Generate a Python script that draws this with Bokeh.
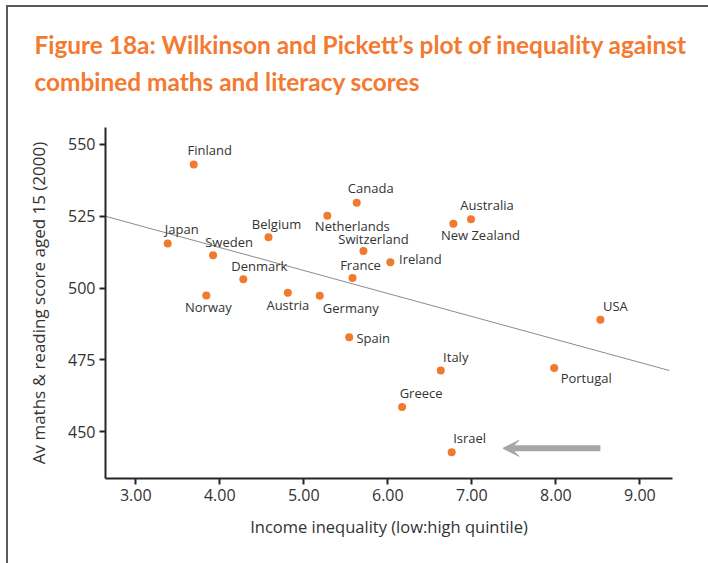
from bokeh.plotting import figure
from bokeh.models import ColumnDataSource, Title, Arrow, VeeHead, Range1d, FixedTicker
from bokeh.core.properties import value
from bokeh.embed import file_html
from bokeh.resources import INLINE

countries = ["Finland", "Japan", "Sweden", "Belgium", "Denmark", "Norway", "Austria",
             "Germany", "Netherlands", "Canada", "Switzerland", "France", "Ireland",
             "Australia", "New Zealand", "USA", "Spain", "Italy", "Portugal", "Greece", "Israel"]
inequality = [3.69, 3.38, 3.92, 4.58, 4.28, 3.84, 4.81, 5.19, 5.28, 5.63, 5.71, 5.58, 6.03,
              6.99, 6.78, 8.53, 5.54, 6.63, 7.98, 6.17, 6.76]
score = [543.0, 515.5, 511.4, 517.7, 503.1, 497.4, 498.4, 497.3, 525.2, 529.7, 512.9, 503.5,
         509.0, 524.0, 522.4, 489.0, 482.9, 471.3, 472.2, 458.6, 442.8]

trend_x = [2.64, 9.35]
trend_y = [525.0, 471.3]

arrow_x = [8.53, 7.37]
arrow_y = 444.2

x_ticks = [3, 4, 5, 6, 7, 8, 9]
y_ticks = [450, 475, 500, 525, 550]

title_lines = ["Figure 18a: Wilkinson and Pickett\u2019s plot of inequality against",
               "combined maths and literacy scores"]

# label placement (screen pixel offsets from the dot centre)
label_dx = [16, 14, 16, 8, 16, 2, 0, 31, 25, 14, 10, 8, 30, 16, 27, 15, 24, 15, 32, 19, 18]
label_dy = [-15, -15, -13, -13, -13, 11, 12, 12, 10, -15, -12, -13, -3, -14, 11, -14, 1, -14, 10, -14, -14]

ORANGE = "#f07b2f"
TITLE_ORANGE = "#f37a30"

p = figure(width=708, height=563, output_backend="svg", toolbar_location=None,
           x_range=Range1d(2.64, 9.388), y_range=Range1d(433.7, 555.9),
           min_border_left=105, min_border_right=36, min_border_bottom=85, min_border_top=127)
p.outline_line_color = None
p.grid.grid_line_color = None
p.background_fill_color = "white"
p.border_fill_color = None
# outer frame: top and left edges
p.styles = {"background-color": "white",
            "box-shadow": "inset 6px 5px 0 0 white, inset 8px 7px 0 0 #595959"}

# titles (added inner-most first)
spacer = Title(text=" ", text_font="Lato", text_font_size="10px", standoff=14)
t2 = Title(text=title_lines[1], text_color=TITLE_ORANGE, text_font="Lato",
           text_font_style="bold", text_font_size="24.4px", align="left", offset=-71, standoff=7)
t1 = Title(text=title_lines[0], text_color=TITLE_ORANGE, text_font="Lato",
           text_font_style="bold", text_font_size="24.4px", align="left", offset=-71, standoff=5)
p.add_layout(spacer, "above")
p.add_layout(t2, "above")
p.add_layout(t1, "above")

for ax in (p.xaxis[0], p.yaxis[0]):
    ax.axis_line_color = "#262626"
    ax.axis_line_width = 2
    ax.major_tick_line_color = "#262626"
    ax.major_tick_line_width = 2
    ax.major_tick_out = 6
    ax.major_tick_in = 0
    ax.minor_tick_line_color = None
    ax.major_label_text_font = "Open Sans"
    ax.major_label_text_font_size = "16px"
    ax.major_label_text_color = "#333333"
    ax.axis_label_text_font = "Open Sans"
    ax.axis_label_text_font_style = "normal"
    ax.axis_label_text_color = "#333333"

p.xaxis.axis_label_text_font_size = "16.5px"
p.yaxis.axis_label_text_font_size = "17px"
p.xaxis.ticker = FixedTicker(ticks=x_ticks)
p.xaxis.major_label_overrides = {t: f"{t:.2f}" for t in x_ticks}
p.yaxis.ticker = FixedTicker(ticks=y_ticks)
p.xaxis.axis_label = "Income inequality (low:high quintile)"
p.yaxis.axis_label = "Av maths & reading score aged 15 (2000)"
p.xaxis.major_label_standoff = 4
p.yaxis.major_label_standoff = 4
p.xaxis.axis_label_standoff = 11
p.yaxis.axis_label_standoff = 15

p.line(trend_x, trend_y, line_color="#8c8c8c", line_width=1)

src = ColumnDataSource(dict(x=inequality, y=score, name=countries, dx=label_dx, dy=label_dy))
p.scatter("x", "y", source=src, size=8, fill_color=ORANGE, line_color=None)
p.text("x", "y", text="name", source=src, x_offset="dx", y_offset="dy",
       text_font=value("Open Sans"), text_font_size="13px", text_color="#333333",
       text_align="center", text_baseline="middle")

p.add_layout(Arrow(x_start=arrow_x[0], y_start=arrow_y, x_end=arrow_x[1], y_end=arrow_y,
                   line_color="#a6a6a6", line_width=6,
                   end=VeeHead(size=16, fill_color="#a6a6a6", line_color="#a6a6a6", line_width=1)))

open("out.html", "w").write(file_html(p, INLINE))
